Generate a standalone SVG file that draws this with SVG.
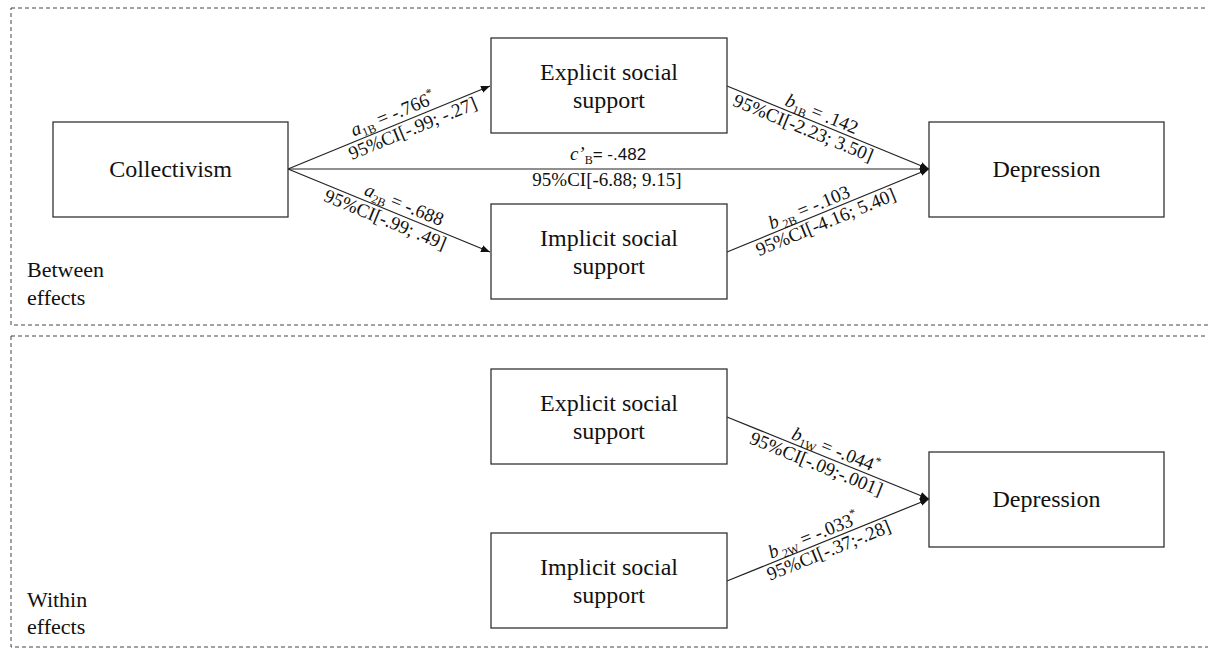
<svg xmlns="http://www.w3.org/2000/svg" width="1208" height="650" viewBox="0 0 1208 650">
<style>
  .frame { fill: none; stroke: #444; stroke-width: 1; stroke-dasharray: 4 3; }
  .box { fill: #fff; stroke: #333; stroke-width: 1.3; }
  .node { font-family: "Liberation Serif", "Times New Roman", serif; font-size: 24px; fill: #111; text-anchor: middle; }
  .side { font-family: "Liberation Serif", "Times New Roman", serif; font-size: 22px; fill: #111; }
  .edge { stroke: #222; stroke-width: 1.2; fill: none; marker-end: url(#arr); }
  .lbl { font-family: "Liberation Serif", "Times New Roman", serif; font-size: 19px; fill: #111; text-anchor: middle; }
  .it { font-style: italic; }
  .sub { font-size: 12px; }
</style>
<defs>
  <marker id="arr" viewBox="0 0 10 10" refX="10" refY="5" markerWidth="9" markerHeight="9" markerUnits="userSpaceOnUse" orient="auto">
    <path d="M0,1 L10,5 L0,9 z" fill="#111"/>
  </marker>
</defs>
<rect width="1208" height="650" fill="#fff"/>

<g id="frames">
  <rect class="frame" x="11" y="8" width="1210" height="317"/>
  <rect class="frame" x="11" y="336" width="1210" height="311"/>
  <text class="side" x="27" y="277">Between</text>
  <text class="side" x="27" y="305">effects</text>
  <text class="side" x="27" y="607">Within</text>
  <text class="side" x="27" y="634">effects</text>
</g>

<g id="connectors">
  <line class="edge" x1="288" y1="169" x2="490" y2="86"/>
  <line class="edge" x1="288" y1="169" x2="490" y2="252"/>
  <line class="edge" x1="288" y1="169" x2="929" y2="169"/>
  <line class="edge" x1="727" y1="86" x2="929" y2="169"/>
  <line class="edge" x1="727" y1="252" x2="929" y2="169"/>
  <line class="edge" x1="727" y1="417" x2="929" y2="499"/>
  <line class="edge" x1="727" y1="581" x2="929" y2="499"/>

  <g transform="translate(397,124.2) rotate(-22.3)">
    <text class="lbl" y="-5"><tspan class="it">a</tspan><tspan class="sub" dy="4">1B</tspan><tspan dy="-4"> = -.766</tspan><tspan class="sub" dy="-8">*</tspan></text>
  </g>
  <g transform="translate(409,119.3) rotate(-22.3)">
    <text class="lbl" y="16">95%CI[-.99; -.27]</text>
  </g>
  <g transform="translate(400,215) rotate(22.3)">
    <text class="lbl" y="-5"><tspan class="it">a</tspan><tspan class="sub" dy="4">2B</tspan><tspan dy="-4"> = -.688</tspan></text>
  </g>
  <g transform="translate(389,210.5) rotate(22.3)">
    <text class="lbl" y="16">95%CI[-.99; .49]</text>
  </g>

  <text class="lbl" x="608" y="160"><tspan class="it">c’</tspan><tspan class="sub" dy="4">B</tspan><tspan dy="-4" font-family="Liberation Sans, Arial, sans-serif" font-size="17">= -.482</tspan></text>
  <text class="lbl" x="607" y="186">95%CI[-6.88; 9.15]</text>

  <g transform="translate(818,123.4) rotate(22.3)">
    <text class="lbl" y="-4"><tspan class="it">b</tspan><tspan class="sub" dy="4">1B</tspan><tspan dy="-4"> = .142</tspan></text>
  </g>
  <g transform="translate(807,118.9) rotate(22.3)">
    <text class="lbl" y="16">95%CI[-2.23; 3.50]</text>
  </g>
  <g transform="translate(813,216.7) rotate(-22.3)">
    <text class="lbl" y="-4"><tspan class="it">b</tspan><tspan class="sub" dy="4"> 2B</tspan><tspan dy="-4"> = -.103</tspan></text>
  </g>
  <g transform="translate(822,213) rotate(-22.3)">
    <text class="lbl" y="16">95%CI[-4.16; 5.40]</text>
  </g>

  <g transform="translate(832,459.6) rotate(22.1)">
    <text class="lbl" y="-4"><tspan class="it">b</tspan><tspan class="sub" dy="4">1W</tspan><tspan dy="-4"> = -.044</tspan><tspan class="sub" dy="-8">*</tspan></text>
  </g>
  <g transform="translate(820,454.8) rotate(22.1)">
    <text class="lbl" y="16">95%CI[-.09;-.001]</text>
  </g>
  <g transform="translate(817,544.5) rotate(-22.1)">
    <text class="lbl" y="-4"><tspan class="it">b</tspan><tspan class="sub" dy="4"> 2W</tspan><tspan dy="-4"> = -.033</tspan><tspan class="sub" dy="-8">*</tspan></text>
  </g>
  <g transform="translate(825,541.2) rotate(-22.1)">
    <text class="lbl" y="16">95%CI[-.37;-.28]</text>
  </g>
</g>

<g id="collectivism">
  <rect class="box" x="53" y="122" width="235" height="95"/>
  <text class="node" x="170.5" y="177">Collectivism</text>
</g>
<g id="explicit-between">
  <rect class="box" x="491" y="38" width="236" height="95"/>
  <text class="node" x="609" y="80">Explicit social</text>
  <text class="node" x="609" y="108">support</text>
</g>
<g id="implicit-between">
  <rect class="box" x="491" y="204" width="236" height="95"/>
  <text class="node" x="609" y="246">Implicit social</text>
  <text class="node" x="609" y="274">support</text>
</g>
<g id="depression-between">
  <rect class="box" x="929" y="122" width="235" height="95"/>
  <text class="node" x="1046.5" y="177">Depression</text>
</g>
<g id="explicit-within">
  <rect class="box" x="491" y="369" width="236" height="95"/>
  <text class="node" x="609" y="411">Explicit social</text>
  <text class="node" x="609" y="439">support</text>
</g>
<g id="implicit-within">
  <rect class="box" x="491" y="533" width="236" height="95"/>
  <text class="node" x="609" y="575">Implicit social</text>
  <text class="node" x="609" y="603">support</text>
</g>
<g id="depression-within">
  <rect class="box" x="929" y="452" width="235" height="95"/>
  <text class="node" x="1046.5" y="507">Depression</text>
</g>
</svg>
